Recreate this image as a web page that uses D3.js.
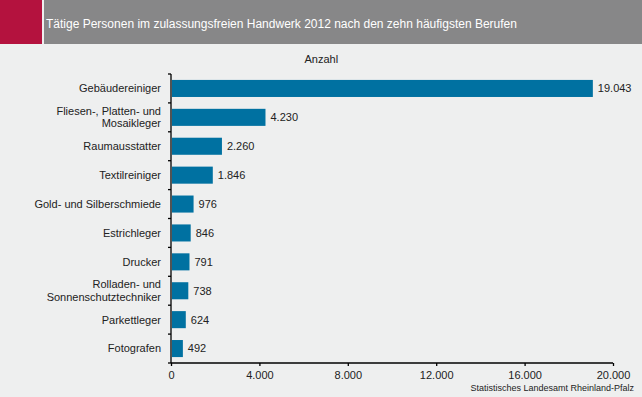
<!DOCTYPE html>
<html>
<head>
<meta charset="utf-8">
<script src="https://cdn.jsdelivr.net/npm/d3@7"></script>
<style>
  body { margin: 0; background: #eeefef; }
  svg { display: block; font-family: "Liberation Sans", Arial, sans-serif; }
</style>
</head>
<body>
<div id="chart"></div>
<script>
var berufe = [
    ["Gebäudereiniger"],
    ["Fliesen-, Platten- und", "Mosaikleger"],
    ["Raumausstatter"],
    ["Textilreiniger"],
    ["Gold- und Silberschmiede"],
    ["Estrichleger"],
    ["Drucker"],
    ["Rolladen- und", "Sonnenschutztechniker"],
    ["Parkettleger"],
    ["Fotografen"]
];
var anzahl = [19043, 4230, 2260, 1846, 976, 846, 791, 738, 624, 492];
var xTicks = [0, 4000, 8000, 12000, 16000, 20000];

var titel = "Tätige Personen im zulassungsfreien Handwerk 2012 nach den zehn häufigsten Berufen";
var quelle = "Statistisches Landesamt Rheinland-Pfalz";

var outerWidth = 642,
    outerHeight = 397,
    margin = { top: 74, left: 171, right: 29, bottom: 34 },
    width = outerWidth - margin.left - margin.right,
    height = outerHeight - margin.top - margin.bottom;

var de = d3.formatLocale({ decimal: ",", thousands: ".", grouping: [3], currency: ["", " €"] });
var fmt = de.format(",d");

var data = anzahl.map(function(v, i) { return { label: berufe[i], value: v, key: i }; });

var svg = d3.select("#chart").append("svg")
    .attr("width", outerWidth)
    .attr("height", outerHeight);

svg.append("rect")
    .attr("width", outerWidth).attr("height", outerHeight)
    .attr("fill", "#eeefef");

// header
svg.append("rect").attr("x", 0).attr("y", 0).attr("width", 42).attr("height", 44).attr("fill", "#b4123e");
svg.append("rect").attr("x", 44).attr("y", 0).attr("width", outerWidth - 44).attr("height", 44).attr("fill", "#878788");
svg.append("text")
    .attr("x", 46).attr("y", 28)
    .attr("fill", "#fff")
    .style("font-size", "12px")
    .text(titel);

var x = d3.scaleLinear().domain([0, 20000]).range([0, width]);
var y = d3.scaleBand().domain(d3.range(data.length)).range([0, height]).paddingInner(0.41).paddingOuter(0.205);

var g = svg.append("g").attr("transform", "translate(" + margin.left + "," + margin.top + ")");

g.append("text")
    .attr("x", x(6800)).attr("y", -11)
    .attr("text-anchor", "middle")
    .attr("fill", "#222")
    .style("font-size", "11px")
    .text("Anzahl");

g.selectAll(".bar")
    .data(data)
    .enter().append("rect")
    .attr("class", "bar")
    .attr("x", 1)
    .attr("y", function(d) { return y(d.key); })
    .attr("width", function(d) { return x(d.value); })
    .attr("height", y.bandwidth())
    .attr("fill", "#0071a1");

g.selectAll(".val")
    .data(data)
    .enter().append("text")
    .attr("class", "val")
    .attr("x", function(d) { return x(d.value) + 6; })
    .attr("y", function(d) { return y(d.key) + y.bandwidth() / 2; })
    .attr("dy", "0.35em")
    .attr("fill", "#222")
    .style("font-size", "11px")
    .text(function(d) { return fmt(d.value); });

// category labels
var lab = g.selectAll(".lab")
    .data(data)
    .enter().append("text")
    .attr("class", "lab")
    .attr("text-anchor", "end")
    .attr("fill", "#222")
    .style("font-size", "11px")
    .attr("transform", function(d) { return "translate(-10," + (y(d.key) + y.bandwidth() / 2) + ")"; });

lab.selectAll("tspan")
    .data(function(d) { return d.label.map(function(t, i) { return { t: t, i: i, n: d.label.length }; }); })
    .enter().append("tspan")
    .attr("x", 0)
    .attr("y", function(d) { return (d.i - (d.n - 1) / 2) * 12.5; })
    .attr("dy", "0.35em")
    .text(function(d) { return d.t; });

// y axis line with ticks at band edges
var step = y.step();
var edges = d3.range(data.length + 1).map(function(i) { return i * step; });
g.append("line")
    .attr("x1", 0).attr("x2", 0).attr("y1", 0).attr("y2", height)
    .attr("stroke", "#000").attr("stroke-width", 1.3);
g.selectAll(".ytick")
    .data(edges)
    .enter().append("line")
    .attr("class", "ytick")
    .attr("x1", -3).attr("x2", 0)
    .attr("y1", function(d) { return d; }).attr("y2", function(d) { return d; })
    .attr("stroke", "#000").attr("stroke-width", 1.3);

// x axis
var xAxis = d3.axisBottom(x)
    .tickValues(xTicks)
    .tickSize(3)
    .tickFormat(function(d) { return fmt(d); });

var xg = g.append("g")
    .attr("transform", "translate(0," + height + ")")
    .call(xAxis);
xg.select(".domain").attr("stroke", "#000").attr("stroke-width", 1.6).attr("d", "M0,0H" + width);
xg.selectAll(".tick line").attr("stroke", "#000").attr("stroke-width", 1.3);
xg.selectAll(".tick text")
    .attr("fill", "#222")
    .attr("y", 8)
    .style("font-size", "11px")
    .style("font-family", "Liberation Sans, Arial, sans-serif");

svg.append("text")
    .attr("x", 634).attr("y", 391)
    .attr("text-anchor", "end")
    .attr("fill", "#222")
    .style("font-size", "9px")
    .text(quelle);
</script>
</body>
</html>
